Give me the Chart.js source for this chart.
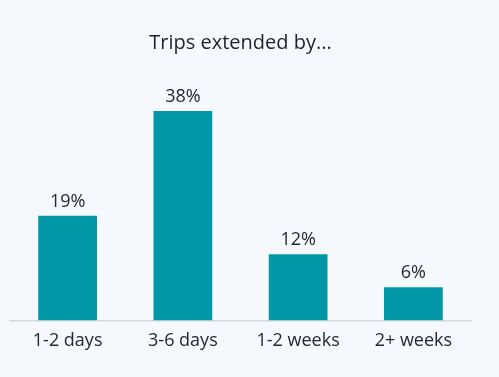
<!DOCTYPE html>
<html>
<head>
<meta charset="utf-8">
<script src="https://cdn.jsdelivr.net/npm/chart.js@4/dist/chart.umd.min.js"></script>
<style>
  html, body { margin: 0; padding: 0; background: #f5f9fd; }
  #wrap { width: 499px; height: 377px; position: relative; }
</style>
</head>
<body>
<div id="wrap"><canvas id="chart"></canvas></div>
<script>
// Chart data
const categories = ['1-2 days', '3-6 days', '1-2 weeks', '2+ weeks'];
const shares = [19, 38, 12, 6];
const chartTitle = 'Trips extended by...';

// Value labels above the bars
const valueLabels = {
    id: 'valueLabels',
    afterDatasetsDraw(chart) {
        const ctx = chart.ctx;
        const meta = chart.getDatasetMeta(0);
        ctx.save();
        ctx.font = '18px "Open Sans"';
        ctx.fillStyle = '#232836';
        ctx.textAlign = 'center';
        ctx.textBaseline = 'alphabetic';
        meta.data.forEach(function (bar, i) {
            ctx.fillText(shares[i] + '%', bar.x, bar.y - 9);
        });
        ctx.restore();
    }
};

const ctx = document.getElementById('chart').getContext('2d');
const myChart = new Chart(ctx, {
    type: 'bar',
    data: {
        labels: categories,
        datasets: [{
            data: shares,
            backgroundColor: '#0297a7',
            barPercentage: 0.51,
            categoryPercentage: 1
        }]
    },
    options: {
        responsive: true,
        maintainAspectRatio: false,
        animation: false,
        layout: { padding: { left: 10, right: 28, top: 0, bottom: 23 } },
        plugins: {
            legend: { display: false },
            tooltip: { enabled: false },
            title: {
                display: true,
                text: chartTitle,
                color: '#1c2232',
                font: { family: 'Open Sans', size: 20, weight: 'normal' },
                padding: { top: 31, bottom: 56 }
            }
        },
        scales: {
            x: {
                grid: { display: false },
                border: { color: '#d6dadf', width: 1.5 },
                ticks: {
                    color: '#232836',
                    padding: 2,
                    font: { family: 'Open Sans', size: 18 }
                }
            },
            y: {
                display: false,
                min: 0,
                max: 38
            }
        }
    },
    plugins: [valueLabels]
});
</script>
</body>
</html>
